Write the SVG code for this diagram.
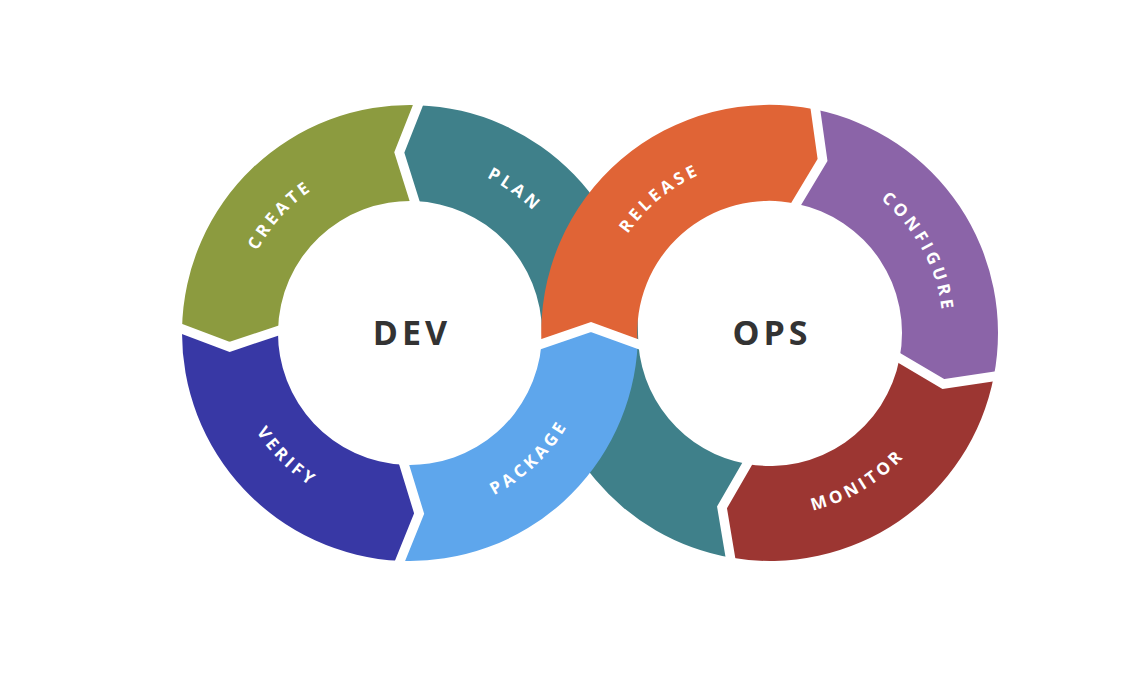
<svg xmlns="http://www.w3.org/2000/svg" width="1148" height="674" viewBox="0 0 1148 674">
<style>
.lbl{font-family:"Open Sans","Liberation Sans",sans-serif;font-weight:700;font-size:17px;letter-spacing:3.7px;fill:#ffffff}
.hub{font-family:"Open Sans","Liberation Sans",sans-serif;font-weight:700;font-size:34px;letter-spacing:4px;fill:#333333;text-anchor:middle}
.gap{fill:none;stroke:#ffffff;stroke-width:9.5;stroke-linejoin:miter;stroke-linecap:square}
</style>
<defs>
<path id="p-create" d="M 258.40,415.31 A 172 172 0 0 1 473.22,172.50"/>
<path id="p-plan" d="M 312.29,190.84 A 172 172 0 0 1 576.23,379.10"/>
<path id="p-release" d="M 607.90,392.00 A 172 172 0 0 1 856.25,183.61"/>
<path id="p-configure" d="M 742.42,162.72 A 172 172 0 0 1 900.58,445.72"/>
<path id="p-verify" d="M 244.37,254.00 A 184 184 0 0 0 486.10,499.98"/>
<path id="p-package" d="M 326.69,496.50 A 184 184 0 0 0 578.91,261.30"/>
<path id="p-monitor" d="M 652.05,473.57 A 184 184 0 0 0 950.71,301.14"/>
</defs>
<rect width="1148" height="674" fill="#ffffff"/>
<g id="plan">
<path fill="#3F808A" d="M 730.41,557.54 A 228 228 0 0 1 542,333 A 132 132 0 0 0 414.61,201.08 L 399.29,152.52 L 417.96,105.14 A 228 228 0 0 1 638,333 A 132 132 0 0 0 747.08,464 L 722,507.32 Z"/>
<text class="lbl"><textPath href="#p-plan" startOffset="50.5%" text-anchor="middle">PLAN</textPath></text>
</g>
<g id="create">
<path fill="#8C9B3F" d="M 417.96,105.14 A 228 228 0 0 0 182.03,329.02 L 229.73,346.86 L 278.02,330.70 A 132 132 0 0 1 414.61,201.08 L 399.29,152.52 Z"/>
<text class="lbl"><textPath href="#p-create" startOffset="50.5%" text-anchor="middle">CREATE</textPath></text>
</g>
<g id="verify">
<path fill="#3838A5" d="M 182.03,329.02 A 228 228 0 0 0 400.05,560.78 L 419.13,513.57 L 404.24,464.87 A 132 132 0 0 1 278.02,330.70 L 229.73,346.86 Z"/>
<text class="lbl"><textPath href="#p-verify" startOffset="50.5%" text-anchor="middle">VERIFY</textPath></text>
</g>
<g id="package">
<path fill="#5EA6EC" d="M 400.05,560.78 A 228 228 0 0 0 637.7,344 L 591,327 L 541.5,344 A 132 132 0 0 1 404.24,464.87 L 419.13,513.57 Z"/>
<text class="lbl"><textPath href="#p-package" startOffset="50.5%" text-anchor="middle">PACKAGE</textPath></text>
</g>
<g id="release">
<path fill="#E06436" d="M 541.5,344 L 591,327 L 637.7,344 A 132 132 0 0 1 796.32,203.65 L 822.55,160 L 815.46,109.58 A 228 228 0 0 0 541.5,344 Z"/>
<text class="lbl"><textPath href="#p-release" startOffset="50.5%" text-anchor="middle">RELEASE</textPath></text>
</g>
<g id="configure">
<path fill="#8B64A8" d="M 815.46,109.58 A 228 228 0 0 1 993.81,376.51 L 943.45,384.04 L 899.58,358.19 A 132 132 0 0 0 796.32,203.65 L 822.55,160 Z"/>
<text class="lbl"><textPath href="#p-configure" startOffset="50.5%" text-anchor="middle">CONFIGURE</textPath></text>
</g>
<g id="monitor">
<path fill="#9C3632" d="M 993.81,376.51 A 228 228 0 0 1 730.41,557.54 L 722,507.32 L 747.08,464 A 132 132 0 0 0 899.58,358.19 L 943.45,384.04 Z"/>
<text class="lbl"><textPath href="#p-monitor" startOffset="50.5%" text-anchor="middle">MONITOR</textPath></text>
</g>
<g id="separators">
<polyline class="gap" points="417.96,105.14 399.29,152.52 414.61,201.08"/>
<polyline class="gap" points="182.03,329.02 229.73,346.86 278.02,330.70"/>
<polyline class="gap" points="400.05,560.78 419.13,513.57 404.24,464.87"/>
<polyline class="gap" points="541.5,344 591,327 637.7,344"/>
<polyline class="gap" points="815.46,109.58 822.55,160 796.32,203.65"/>
<polyline class="gap" points="993.81,376.51 943.45,384.04 899.58,358.19"/>
<polyline class="gap" points="730.41,557.54 722,507.32 747.08,464"/>
</g>
<g id="dev"><text class="hub" x="412" y="345">DEV</text></g>
<g id="ops"><text class="hub" x="772" y="345">OPS</text></g>
</svg>
